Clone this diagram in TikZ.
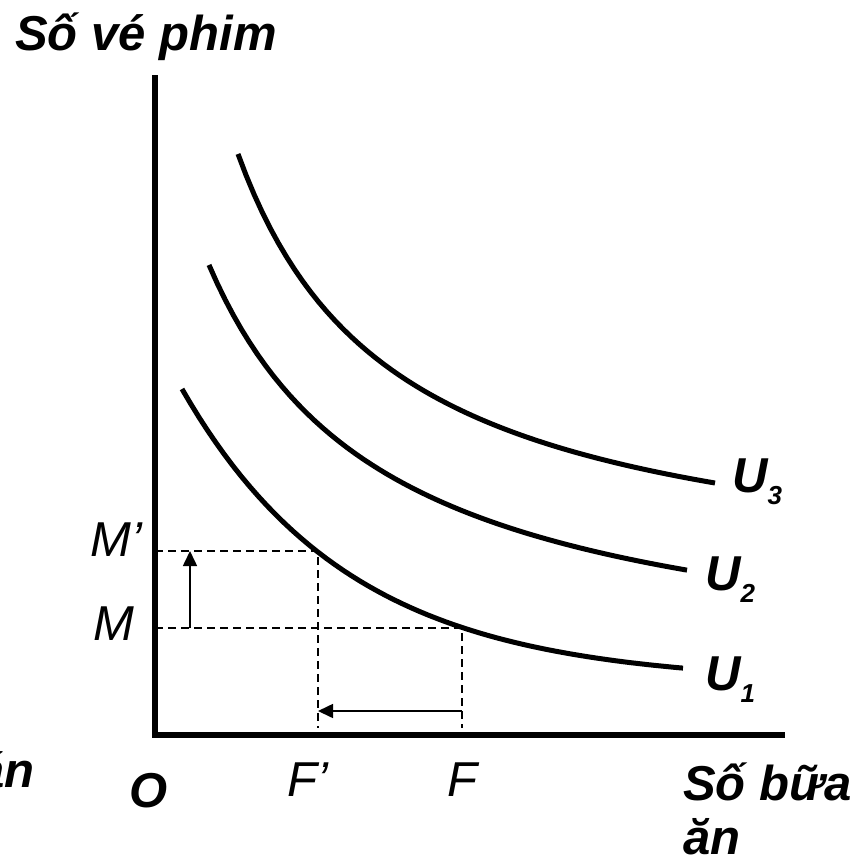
\documentclass[tikz,border=0pt]{standalone}
\usepackage{fontspec}
\setmainfont{Liberation Sans}
\usepackage{tikz}
\usetikzlibrary{arrows.meta,positioning}
\newcommand{\bigbi}{\fontsize{49}{54}\selectfont\bfseries\itshape}
\newcommand{\bigit}{\fontsize{49}{54}\selectfont\itshape}
\newcommand{\ulab}[1]{U\raisebox{-12pt}{\fontsize{26}{26}\selectfont #1}}
\tikzset{
  axis/.style={line width=5.5pt, line join=miter},
  curve/.style={line width=5pt},
  guide/.style={line width=1.6pt, dash pattern=on 8pt off 5pt},
  ar/.style={-{Triangle[length=15pt,width=14pt]}, line width=1.6pt},
  lbl/.style={font=\bigbi, inner sep=0pt, anchor=base west},
  var/.style={font=\bigit, inner sep=0pt, anchor=base west},
}
\begin{document}
\begin{tikzpicture}[x=1pt,y=-1pt]
  \useasboundingbox (0,0) rectangle (860,863);
  % axes
  \coordinate (ytop) at (155,75);
  \coordinate (xend) at (785,735);
  \draw[axis] (ytop) |- (xend);
  % indifference curves
  \draw[curve, domain=182:683, samples=60, variable=\t] plot ({\t},{683-294*exp(-0.00595*(\t-182))});
  \draw[curve, domain=209:687, samples=60, variable=\t] plot ({\t},{684.4-75.075/((\t-30)/1000)});
  \draw[curve, domain=238:715, samples=60, variable=\t] plot ({\t},{592-69.205/((\t-80)/1000)});
  % points and guides
  \coordinate (mp) at (155,551);
  \coordinate (m) at (155,628);
  \coordinate (b) at (318,551);
  \coordinate (a) at (462,628);
  \coordinate (fp) at (318,728);
  \coordinate (f) at (462,728);
  \draw[guide] (mp) -- (b) -- (fp);
  \draw[guide] (m) -- (a) -- (f);
  \coordinate (up0) at (190,628);
  \coordinate (up1) at (190,551);
  \coordinate (lf0) at (462,711);
  \coordinate (lf1) at (318,711);
  \draw[ar] (up0) -- (up1);
  \draw[ar] (lf0) -- (lf1);
  % labels
  \node[lbl] (ylab) at (15,50) {Số vé phim};
  \node[lbl, align=left] (xlab) at (683,854) {Số bữa\\ăn};
  \node[lbl, anchor=base east] (cut) at (35,787) {án};
  \node[lbl] (o) at (129,807) {O};
  \node[var] (mlp) at (90,556) {M’};
  \node[var] (ml) at (93,640) {M};
  \node[var] (flp) at (287,796) {F’};
  \node[var] (fl) at (447,796) {F};
  \node[lbl] (u3) at (732,492) {\ulab{3}};
  \node[lbl] (u2) at (705,590) {\ulab{2}};
  \node[lbl] (u1) at (705,690) {\ulab{1}};
\end{tikzpicture}
\end{document}
